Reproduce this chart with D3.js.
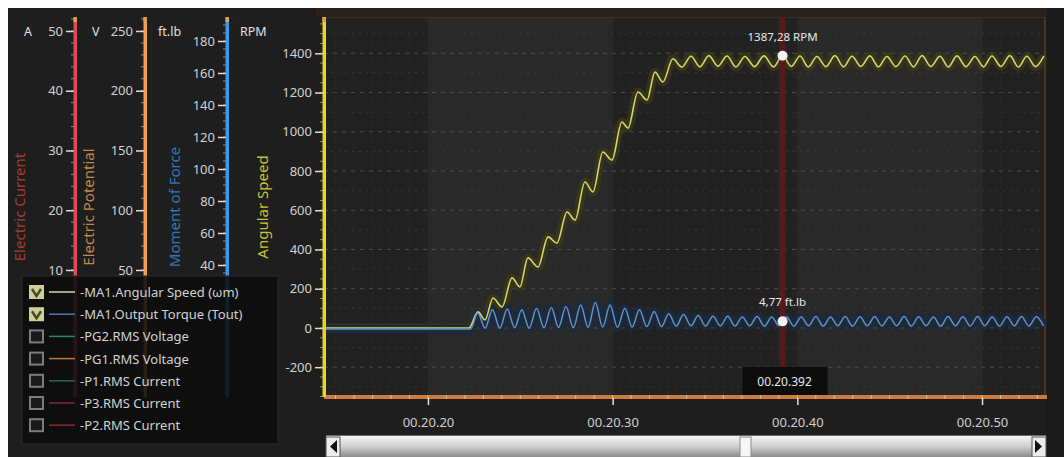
<!DOCTYPE html>
<html>
<head>
<meta charset="utf-8">
<script src="https://cdn.jsdelivr.net/npm/d3@7"></script>
<style>
  html, body { margin: 0; padding: 0; background: #ffffff; }
  svg { display: block; font-family: "Noto Sans", "Open Sans", sans-serif; }
</style>
</head>
<body>
<svg id="chart" width="1064" height="457"></svg>
<script>
// ---- Angular speed samples (time in s, value in RPM) ----
const speedTime = [
  20.1437, 20.2222, 20.2271, 20.2309, 20.2352, 20.2401, 20.2455, 20.2498, 20.2541, 20.2596,
  20.2650, 20.2698, 20.2753, 20.2796, 20.2850, 20.2893, 20.2947, 20.2996, 20.3050, 20.3083,
  20.3137, 20.3186, 20.3229, 20.3272, 20.3326, 20.3375, 20.3424, 20.3473, 20.3521, 20.3570,
  20.3619, 20.3668, 20.3716, 20.3768, 20.3819, 20.3871, 20.3920, 20.3968, 20.4014, 20.4060,
  20.4106, 20.4155, 20.4204, 20.4250, 20.4296, 20.4344, 20.4393, 20.4439, 20.4485, 20.4534,
  20.4583, 20.4629, 20.4675, 20.4723, 20.4772, 20.4818, 20.4864, 20.4913, 20.4962, 20.5008,
  20.5054, 20.5102, 20.5151, 20.5197, 20.5243, 20.5289, 20.5335
];
const speedRpm = [
  0, 0, 82, 41, 153, 107, 255, 209, 357, 311,
  464, 433, 591, 550, 744, 693, 897, 856, 1050, 1019,
  1203, 1162, 1304, 1254, 1372, 1330, 1385, 1331, 1388, 1334,
  1386, 1330, 1384, 1332, 1387, 1331, 1387.28, 1333, 1386, 1330,
  1384, 1332, 1388, 1331, 1385, 1333, 1387, 1330, 1384, 1332,
  1386, 1331, 1388, 1333, 1385, 1330, 1387, 1332, 1384, 1331,
  1386, 1333, 1388, 1330, 1385, 1332, 1387
];

// ---- Output torque samples (time in s, value in ft.lb) ----
const torqueTime = [
  20.1437, 20.2230,
  20.2270, 20.2309, 20.2349, 20.2389, 20.2429, 20.2469, 20.2508, 20.2548,
  20.2588, 20.2628, 20.2668, 20.2707, 20.2747, 20.2787, 20.2827, 20.2867,
  20.2906, 20.2946, 20.2986, 20.3026, 20.3066, 20.3105, 20.3145, 20.3185,
  20.3225, 20.3264, 20.3304, 20.3344, 20.3384, 20.3424, 20.3463, 20.3503,
  20.3543, 20.3583, 20.3623, 20.3662, 20.3702, 20.3742, 20.3782, 20.3822,
  20.3861, 20.3901, 20.3920, 20.3941, 20.3981, 20.4021, 20.4061, 20.4100, 20.4140,
  20.4180, 20.4219, 20.4259, 20.4299, 20.4339, 20.4379, 20.4419, 20.4458,
  20.4498, 20.4538, 20.4578, 20.4617, 20.4657, 20.4697, 20.4737, 20.4776,
  20.4816, 20.4856, 20.4896, 20.4936, 20.4976, 20.5015, 20.5055, 20.5095,
  20.5135, 20.5175, 20.5214, 20.5254, 20.5294, 20.5333
];
const torqueFtlb = [
  0, 0,
  10, 0.5, 12, 0.5, 12.5, 0.8, 12, 0.5,
  13, 0.8, 13.5, 1, 14, 0.8, 15, 1,
  16.5, 1.2, 15, 1, 13, 1.2, 12, 1.5,
  11, 1.5, 9.5, 1.8, 9, 2, 8.5, 1.8,
  8, 2, 8, 1.8, 7.5, 2, 7.8, 1.8,
  7.5, 2, 4.77, 7.6, 1.8, 7.5, 2, 7.8, 1.8,
  7.5, 2, 7.8, 1.8, 7.6, 2, 7.8, 1.9,
  7.5, 2, 7.8, 1.8, 7.6, 2, 7.5, 1.8,
  7.8, 2, 7.6, 1.9, 7.8, 2, 7.5, 1.8,
  7.7, 2, 7.8, 1.9, 7.6, 2
];

// ---- Axes ----
const timeTicks = [20.20, 20.30, 20.40, 20.50];
const timeTickLabels = ["00.20.20", "00.20.30", "00.20.40", "00.20.50"];
const rpmTicks = [-200, 0, 200, 400, 600, 800, 1000, 1200, 1400];
const torqueTicks = [40, 60, 80, 100, 120, 140, 160, 180];
const voltTicks = [50, 100, 150, 200, 250];
const ampTicks = [10, 20, 30, 40, 50];

// ---- Legend ----
const legendNames = [
  "-MA1.Angular Speed (\u03c9m)",
  "-MA1.Output Torque (Tout)",
  "-PG2.RMS Voltage",
  "-PG1.RMS Voltage",
  "-P1.RMS Current",
  "-P3.RMS Current",
  "-P2.RMS Current"
];
const legendChecked = [true, true, false, false, false, false, false];
const legendColors = ["#d8d8a0", "#4a7cb4", "#2a8a62", "#c07a34", "#1f6a4c", "#84204c", "#8e2a2a"];

// ---- Cursor readout ----
const cursorTime = 20.392;
const cursorLabel = "00.20.392";
const cursorRpm = 1387.28;
const cursorTorque = 4.77;

const svg = d3.select("#chart");
const plot = { left: 324, right: 1045, top: 17, bottom: 397 };

const x = d3.scaleLinear().domain([20.1437, 20.5341]).range([plot.left, plot.right]);
const yRpm = d3.scaleLinear().domain([-352, 1585]).range([plot.bottom, plot.top]);
const yTorque = d3.scaleLinear().domain([-42.5, 195]).range([plot.bottom, plot.top]);
const yVolt = d3.scaleLinear().domain([-56.3, 261.7]).range([plot.bottom, plot.top]);
const yAmp = d3.scaleLinear().domain([-11.26, 52.34]).range([plot.bottom, plot.top]);

const plainNumber = d => String(d);

// background panels
svg.append("rect").attr("x", 8).attr("y", 8).attr("width", 1056).attr("height", 449).attr("fill", "#1e1e1e");
svg.append("rect").attr("x", 316).attr("y", 8).attr("width", 748).attr("height", 9).attr("fill", "#29221d");
svg.append("rect").attr("x", plot.right + 2).attr("y", 8).attr("width", 1064 - plot.right - 2).attr("height", 449).attr("fill", "#1a1a1a");

// plot area with alternating bands between major time ticks
svg.append("rect").attr("x", plot.left).attr("y", plot.top)
  .attr("width", plot.right - plot.left).attr("height", plot.bottom - plot.top).attr("fill", "#222222");
[[20.20, 20.30], [20.40, 20.50]].forEach(([a, b]) => {
  svg.append("rect").attr("x", x(a)).attr("y", plot.top)
    .attr("width", x(b) - x(a)).attr("height", plot.bottom - plot.top).attr("fill", "#292929");
});

// grid
const grid = svg.append("g");
d3.range(-300, 1600, 100).forEach(v => {
  const major = v % 200 === 0;
  grid.append("line")
    .attr("x1", plot.left).attr("x2", plot.right)
    .attr("y1", yRpm(v)).attr("y2", yRpm(v))
    .attr("stroke", major ? "#4c4c4c" : "#383838")
    .attr("stroke-width", 1)
    .attr("stroke-dasharray", major ? "4,5" : "2,5");
});
d3.range(20.15, 20.535, 0.01).forEach(t => {
  grid.append("line")
    .attr("x1", x(t)).attr("x2", x(t))
    .attr("y1", plot.top).attr("y2", plot.bottom)
    .attr("stroke", "#343434").attr("stroke-width", 1).attr("stroke-dasharray", "1,4");
});
// plot frame
svg.append("line").attr("x1", plot.left).attr("x2", plot.right).attr("y1", plot.top + 0.5).attr("y2", plot.top + 0.5)
  .attr("stroke", "#3a2e26").attr("stroke-width", 1);
svg.append("line").attr("x1", plot.right).attr("x2", plot.right).attr("y1", plot.top).attr("y2", plot.bottom)
  .attr("stroke", "#5a3c24").attr("stroke-width", 1.5);

// series lines
const speedData = speedTime.map((t, i) => [t, speedRpm[i]]);
const torqueData = torqueTime.map((t, i) => [t, torqueFtlb[i]]);
const speedLine = d3.line().x(d => x(d[0])).y(d => yRpm(d[1])).curve(d3.curveMonotoneX);
const torqueLine = d3.line().x(d => x(d[0])).y(d => yTorque(d[1])).curve(d3.curveMonotoneX);

const series = svg.append("g");
series.append("path").attr("d", speedLine(speedData)).attr("fill", "none")
  .attr("stroke", "#3a3a18").attr("stroke-width", 9).attr("stroke-opacity", 0.7).attr("stroke-linejoin", "round");
series.append("path").attr("d", torqueLine(torqueData)).attr("fill", "none")
  .attr("stroke", "#1b2a40").attr("stroke-width", 9).attr("stroke-opacity", 0.8).attr("stroke-linejoin", "round");
series.append("path").attr("d", speedLine(speedData)).attr("fill", "none")
  .attr("stroke", "#d6d66a").attr("stroke-width", 1.6).attr("stroke-linejoin", "round");
series.append("path").attr("d", torqueLine(torqueData)).attr("fill", "none")
  .attr("stroke", "#5e94c6").attr("stroke-width", 1.5).attr("stroke-linejoin", "round");

// cursor
const cx = x(cursorTime);
svg.append("line").attr("x1", cx).attr("x2", cx).attr("y1", plot.top).attr("y2", 368)
  .attr("stroke", "#5a1a1c").attr("stroke-width", 6).attr("stroke-opacity", 0.9);
svg.append("rect").attr("x", cx - 40).attr("y", 367).attr("width", 85).attr("height", 28).attr("fill", "#0c0c0c");
svg.append("text").attr("x", cx + 2).attr("y", 386).attr("text-anchor", "middle")
  .attr("fill", "#e6e6e6").attr("font-size", 12).text(cursorLabel);

const fmt = v => d3.format(".2f")(v).replace(".", ",");
[[yRpm(cursorRpm), fmt(cursorRpm) + " RPM"], [yTorque(cursorTorque), fmt(cursorTorque) + " ft.lb"]].forEach(([cy, label]) => {
  svg.append("circle").attr("cx", cx).attr("cy", cy).attr("r", 5).attr("fill", "#f2f2f2");
  svg.append("text").attr("x", cx).attr("y", cy - 15).attr("text-anchor", "middle")
    .attr("fill", "#e8e8e8").attr("font-size", 11.5).text(label);
});

// bottom time axis
svg.append("rect").attr("x", plot.left).attr("y", plot.bottom - 2).attr("width", plot.right - plot.left + 2).attr("height", 4)
  .attr("fill", "#cf7a3c");
d3.range(20.15, 20.535, 0.01).forEach(t => {
  svg.append("line").attr("x1", x(t)).attr("x2", x(t)).attr("y1", plot.bottom - 2).attr("y2", plot.bottom + 2)
    .attr("stroke", "#e8b88a").attr("stroke-width", 1);
});
const xAxis = d3.axisBottom(x).tickValues(timeTicks)
  .tickFormat((d, i) => timeTickLabels[i]).tickSize(7).tickPadding(13);
const gx = svg.append("g").attr("transform", `translate(0,${plot.bottom + 1})`).call(xAxis);
gx.select(".domain").remove();
gx.selectAll(".tick line").attr("stroke", "#e0e0e0").attr("stroke-width", 1.5);
gx.selectAll(".tick text").attr("fill", "#cfcfcf").attr("font-size", 13)
  .attr("font-family", "\"Noto Sans\", sans-serif");

// left vertical axes
function leftAxis(scale, ticks, minorStep, xPos, lineColor, unit, unitX, title, titleColor, titleX) {
  const g = svg.append("g");
  const [d0, d1] = scale.domain();
  d3.range(Math.ceil(d0 / minorStep) * minorStep, d1, minorStep).forEach(v => {
    g.append("line").attr("x1", xPos - 4).attr("x2", xPos - 1)
      .attr("y1", scale(v)).attr("y2", scale(v)).attr("stroke", "#8a8a8a").attr("stroke-width", 1);
  });
  const ax = d3.axisLeft(scale).tickValues(ticks).tickFormat(plainNumber).tickSize(8).tickPadding(3);
  const ga = g.append("g").attr("transform", `translate(${xPos - 1},0)`).call(ax);
  ga.select(".domain").remove();
  ga.selectAll(".tick line").attr("stroke", "#dcdcdc").attr("stroke-width", 1.5);
  ga.selectAll(".tick text").attr("fill", "#d2d2d2").attr("font-size", 13)
    .attr("font-family", "\"Noto Sans\", sans-serif");
  g.append("rect").attr("x", xPos - 1.5).attr("y", plot.top).attr("width", 3.5)
    .attr("height", plot.bottom - plot.top).attr("fill", lineColor);
  g.append("rect").attr("x", xPos - 1.5).attr("y", plot.top).attr("width", 3.5).attr("height", 5).attr("fill", "#e0a050");
  g.append("text").attr("x", unitX).attr("y", 36).attr("fill", "#e0e0e0").attr("font-size", 12.5).text(unit);
  g.append("text").attr("transform", `translate(${titleX},${(plot.top + plot.bottom) / 2}) rotate(-90)`)
    .attr("text-anchor", "middle").attr("dominant-baseline", "central")
    .attr("fill", titleColor).attr("font-size", 15).text(title);
}
leftAxis(yAmp, ampTicks, 2, 75, "#e04a58", "A", 24, "Electric Current", "#a83838", 19);
leftAxis(yVolt, voltTicks, 10, 145, "#eea050", "V", 92, "Electric Potential", "#c08a4a", 88);
leftAxis(yTorque, torqueTicks, 5, 227, "#3a98ee", "ft.lb", 158, "Moment of Force", "#3674b8", 174);
leftAxis(yRpm, rpmTicks, 50, plot.left, "#ecd424", "RPM", 240, "Angular Speed", "#c8c42e", 262);

// legend panel
const lg = svg.append("g");
lg.append("rect").attr("x", 22).attr("y", 276).attr("width", 256).attr("height", 168)
  .attr("fill", "#0d0d0d").attr("fill-opacity", 0.88).attr("stroke", "#2c2c2c");
legendNames.forEach((name, i) => {
  const cy = 292 + i * 22.2;
  if (legendChecked[i]) {
    lg.append("rect").attr("x", 29).attr("y", cy - 7).attr("width", 15).attr("height", 14).attr("fill", "#cfcf9c");
    lg.append("path").attr("d", `M32,${cy - 3} L36.5,${cy + 4} L41,${cy - 3}`)
      .attr("fill", "none").attr("stroke", "#4a4a22").attr("stroke-width", 2.5);
  } else {
    lg.append("rect").attr("x", 30).attr("y", cy - 6).attr("width", 13).attr("height", 12)
      .attr("fill", "#1a1a1a").attr("stroke", "#7c7c7c").attr("stroke-width", 2);
  }
  lg.append("line").attr("x1", 49).attr("x2", 75).attr("y1", cy).attr("y2", cy)
    .attr("stroke", legendColors[i]).attr("stroke-width", 1.5);
  lg.append("text").attr("x", 80).attr("y", cy).attr("dominant-baseline", "central")
    .attr("fill", "#d2d2d2").attr("font-size", 13).text(name);
});

// scrollbar
const defs = svg.append("defs");
const grad = defs.append("linearGradient").attr("id", "sbar").attr("x1", 0).attr("x2", 0).attr("y1", 0).attr("y2", 1);
grad.append("stop").attr("offset", "0%").attr("stop-color", "#f4f4f4");
grad.append("stop").attr("offset", "50%").attr("stop-color", "#cfcfcf");
grad.append("stop").attr("offset", "100%").attr("stop-color", "#8c8c8c");
svg.append("rect").attr("x", 326).attr("y", 436).attr("width", 720).attr("height", 21).attr("fill", "url(#sbar)");
svg.append("line").attr("x1", 326).attr("x2", 1046).attr("y1", 435.5).attr("y2", 435.5).attr("stroke", "#6a6a6a");
[[326, "M337,440 L337,453 L330,446.5 Z"], [1032, "M1035,440 L1035,453 L1042,446.5 Z"]].forEach(([bx, tri]) => {
  svg.append("rect").attr("x", bx).attr("y", 437).attr("width", 14).attr("height", 20).attr("fill", "#ececec").attr("stroke", "#555");
  svg.append("path").attr("d", tri).attr("fill", "#111");
});
svg.append("rect").attr("x", 740).attr("y", 437).attr("width", 11).attr("height", 20)
  .attr("fill", "#f6f6f6").attr("stroke", "#8a8a8a");
</script>
</body>
</html>
